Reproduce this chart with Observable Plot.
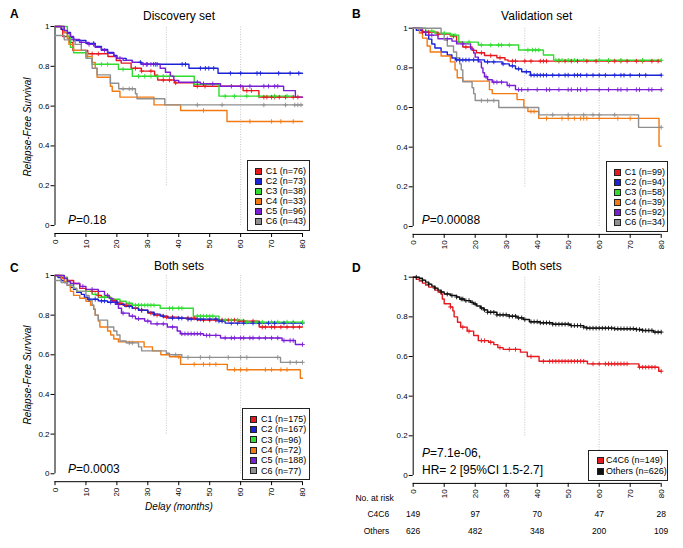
<!DOCTYPE html>
<html><head><meta charset="utf-8">
<script src="https://cdn.jsdelivr.net/npm/d3@7"></script>
<script src="https://cdn.jsdelivr.net/npm/@observablehq/plot@0.6"></script>
<style>
body{margin:0;background:#fff;font-family:"Liberation Sans",Arial,Helvetica,sans-serif;color:#000;}
#root{position:relative;width:683px;height:548px;overflow:hidden;background:#fff;}
.abs{position:absolute;white-space:nowrap;line-height:1;}
.ctr{transform:translate(-50%,-50%);}
.title{font-size:12px;}
.letter{font-size:12px;font-weight:bold;}
.ylab{font-size:10px;font-style:italic;transform:translate(-50%,-50%) rotate(-90deg);}
.pval{font-size:12px;transform:translateY(-50%);}
.legend{position:absolute;border:1px solid #222;background:#fff;box-sizing:border-box;font-size:9px;}
.legend .row{position:absolute;left:0;right:0;}
.legend .sw{position:absolute;width:5px;height:5px;border:1px solid #222;}
.legend .tx{position:absolute;white-space:nowrap;}
.panel{position:absolute;}
</style>
</head><body><div id="root"></div>
<script>
// ---------- shared ----------
const xTicks = [0,10,20,30,40,50,60,70,80];
const yTicks = [0,0.2,0.4,0.6,0.8,1];
const landmarks = [36,60];
const landmarkLow = [0.2,0];
const groupColors = ["#e6191e","#1a22d8","#2fdc2f","#f27a12","#7a1ed6","#8f8f8f"];

// ---------- Panel A: Discovery set ----------
const aLabels = ["C1 (n=76)","C2 (n=73)","C3 (n=38)","C4 (n=33)","C5 (n=96)","C6 (n=43)"];
const aEnd = [80,80,77.3,80,80,80];
const aC1 = [[0,1],[2,0.985],[2.5,0.95],[4.7,0.92],[5.8,0.88],[10.6,0.863],[17.1,0.849],[19.8,0.829],[21.4,0.816],[24.6,0.79],[27.9,0.776],[32.2,0.755],[33.2,0.731],[38.6,0.717],[44.9,0.7],[60.8,0.678],[65.9,0.645]];
const aC1cens = [12,14,26,28,31,35,37,39,46,48.5,62,63.5,67.5,68.5,70,71,72.5,74.5,77,78.5];
const aC2 = [[0,1],[2,0.986],[3,0.97],[5,0.945],[6,0.93],[10,0.915],[13,0.9],[15,0.885],[17,0.87],[19,0.855],[20,0.84],[23,0.83],[25,0.82],[28,0.81],[43.3,0.79],[52.7,0.765]];
const aC2cens = [12.5,27.6,29.8,31.9,33,41.1,42.2,47,48.6,49.7,51.3,56.7,60,65.3,66.4,72.3,76,78.8];
const aC3 = [[0,1],[4,0.95],[5,0.895],[6,0.868],[10.5,0.84],[12,0.81],[20.5,0.785],[25,0.75],[45,0.71],[53,0.65]];
const aC3cens = [15,17,22,27,29,31,33,35,37,48,55,58,62,66,71,75];
const aC4 = [[0,1],[3,0.97],[4,0.94],[4.5,0.91],[6,0.88],[10,0.85],[12,0.82],[13,0.79],[13.6,0.745],[17.9,0.7],[18.5,0.675],[21,0.645],[32,0.606],[40.6,0.578],[55.6,0.523]];
const aC4cens = [48,63,70,73,77];
const aC5 = [[0,1],[3,0.98],[4,0.965],[5,0.95],[6,0.935],[8,0.92],[11,0.91],[13,0.895],[15,0.88],[17,0.865],[19,0.85],[20,0.84],[22,0.83],[25,0.82],[28,0.81],[34,0.79],[35.7,0.77],[37.3,0.75],[38.4,0.729],[40,0.72],[47,0.712],[53.5,0.7],[73.9,0.678],[77.7,0.645]];
const aC5cens = [6,8.5,11,12.5,16,21,28.5,29.5,31,32.5,46,48,51,57,60,63,67.5,69,71,72];
const aC6 = [[0,0.955],[3,0.933],[6.5,0.91],[8.5,0.88],[10,0.84],[12,0.79],[13.6,0.757],[17.9,0.715],[20.6,0.687],[26,0.662],[26.5,0.637],[35.5,0.606]];
const aC6cens = [22,24,25,46,54,67.5,74.5,77.5,78.5,79.5];

// ---------- Panel B: Validation set ----------
const bLabels = ["C1 (n=99)","C2 (n=94)","C3 (n=58)","C4 (n=39)","C5 (n=92)","C6 (n=34)"];
const bEnd = [80,80,80,80,80,80];
const bC1 = [[0,1],[2,0.99],[3,0.98],[8,0.97],[12,0.96],[14,0.93],[16,0.905],[19,0.888],[20.4,0.876],[23,0.862],[27,0.851],[29.6,0.84],[30.6,0.834]];
const bC1cens = [3,5,8,13,17,22,25,28,32,33,36,38,41,42,43,47,49,51,53,56,59,63,65,67,69,72,74,77,79];
const bC2 = [[0,1],[1,0.99],[3,0.98],[4,0.965],[5,0.945],[6,0.92],[7,0.9],[9,0.88],[11,0.865],[12.5,0.85],[13.7,0.84],[23,0.83],[28.7,0.82],[31,0.81],[33,0.795],[35,0.78],[37.8,0.763]];
const bC2cens = [14,15,16,17,18,19.5,21,24,26,29,32,34,36.5,38,39,40,41,42,43,45,47,49,50,52,53,54,56,58,60,62,65,67,68,70,73,75,80];
const bC3 = [[0,1],[4,0.985],[7,0.975],[12,0.965],[14.7,0.93],[21,0.915],[34,0.89],[42,0.865],[45.3,0.838]];
const bC3cens = [6,10,12.5,13.5,18,22,25,27.5,28.5,31,37,38.5,39.5,40.5,46,47,48,50,52,55,60,63,67,74,80];
const bC4 = [[0,1],[2,0.975],[3,0.95],[4.5,0.91],[5.5,0.88],[9,0.86],[12,0.83],[13.5,0.79],[14.2,0.75],[16,0.733],[24.6,0.69],[25.5,0.67],[33.5,0.64],[35.7,0.6],[37,0.58],[40.5,0.545],[79.3,0.405]];
const bC4cens = [38,39,43,48,50,52,54,55,56,60,66,70];
const bC5 = [[0,1],[3,0.98],[5,0.965],[8,0.947],[12.5,0.935],[14,0.921],[18.5,0.895],[19.5,0.875],[20,0.854],[21,0.83],[22,0.8],[22.5,0.775],[23,0.755],[24,0.74],[25.5,0.728],[30.3,0.711],[33,0.69]];
const bC5cens = [4,6,11,16,23.5,26,27,28.5,31,34,35,37,40,43,44,47,50,51,53,54,56,60,63,66,67,69,72,73,76,77,80];
const bC6 = [[0,1],[9,0.97],[10,0.94],[11,0.91],[13,0.88],[14,0.85],[15,0.82],[15.5,0.79],[16,0.73],[19,0.7],[19.5,0.67],[20,0.635],[27.6,0.6],[40.5,0.563],[72.7,0.5]];
const bC6cens = [22,24,26,45,50,55,58,60,65,80];

// ---------- Panel C: Both sets ----------
const cLabels = ["C1 (n=175)","C2 (n=167)","C3 (n=96)","C4 (n=72)","C5 (n=188)","C6 (n=77)"];
const cEnd = [80,80,80,80,80,80];
const cC1 = [[0,1],[2,0.99],[4,0.975],[6,0.96],[8,0.935],[10,0.92],[14,0.9],[15,0.89],[18,0.875],[20,0.86],[22,0.85],[25,0.835],[27,0.825],[30,0.81],[32,0.8],[35,0.79],[40,0.785],[46,0.775],[59,0.77],[66,0.74]];
const cC1cens = [12,14,19,21,23,26,28,31,33,36,38,43,45,48,50,52,54,56,58,59.5,61,64,67,68,70,71,73,75,77,79];
const cC2 = [[0,1],[1,0.99],[2,0.975],[3,0.965],[4,0.95],[5,0.94],[6,0.93],[7,0.915],[8.5,0.905],[9.5,0.89],[10.6,0.88],[14,0.872],[17,0.865],[20.3,0.855],[22.5,0.845],[25,0.835],[27,0.825],[30,0.815],[32,0.805],[34,0.795],[36.5,0.785],[43,0.78],[53,0.77],[55,0.76]];
const cC2cens = [11,13,15,16,18,20,24,28,32,35,38,40,41,43,44,46,47,48,50,52,53,54,57,59,61,64,66,69,71,74,77,80];
const cC3 = [[0,1],[3,0.99],[4,0.97],[5,0.95],[6,0.935],[7,0.92],[12,0.905],[14,0.89],[18,0.88],[21,0.87],[23,0.86],[25,0.85],[34,0.835],[44.7,0.795],[53,0.775],[61,0.765]];
const cC3cens = [13,16,24,26,27,28,29,30,31,32,37,38,40,41,46,47,48,49,50,51,55,57,59,62,65,67,70,72,75,77,80];
const cC4 = [[0,1],[2,0.985],[3,0.97],[4,0.95],[5,0.92],[6,0.9],[8,0.885],[10,0.87],[11.5,0.85],[12.5,0.83],[13,0.8],[14,0.77],[14.5,0.74],[17,0.72],[18,0.7],[19,0.68],[20.5,0.665],[28.8,0.64],[31.5,0.62],[34.2,0.6],[37,0.59],[40.6,0.552],[55.7,0.525],[79.3,0.482]];
const cC4cens = [40,45,48,50,52,58,60,62,68,70,73,75];
const cC5 = [[0,1],[3,0.985],[4,0.97],[5,0.96],[8,0.945],[10,0.93],[14,0.92],[16,0.9],[17.5,0.885],[18.5,0.87],[19.5,0.855],[20.5,0.835],[21.5,0.81],[24,0.795],[26,0.782],[29,0.77],[31,0.756],[36.3,0.74],[39.5,0.72],[40.5,0.706],[48,0.698],[53.5,0.685],[73.4,0.672],[77.7,0.652]];
const cC5cens = [6,9,12,17,22,25,27,30,33,35,38,41,42,43,44,45,46,47,49,50,52,55,57,58,60,61,63,64,66,68,70,72,74,76,77,80];
const cC6 = [[0,0.975],[2,0.965],[4,0.95],[6,0.935],[7,0.92],[10,0.9],[11,0.875],[12,0.85],[12.5,0.83],[13,0.8],[14,0.775],[17,0.74],[19,0.72],[20,0.7],[21,0.67],[23,0.66],[27,0.64],[28,0.62],[36,0.608],[37,0.6],[41,0.587],[72.9,0.562]];
const cC6cens = [24,25,39,43,47,50,56,60,62,72,76,78,80];

// ---------- Panel D: Both sets, C4C6 vs others ----------
const dLabels = ["C4C6 (n=149)","Others (n=626)"];
const dColors = ["#e6191e","#111111"];
const dEnd = [80,80];
const dC4C6 = [[0,1],[1,0.99],[2,0.98],[3,0.97],[4,0.96],[5,0.95],[7,0.935],[8,0.925],[9,0.915],[9.4,0.89],[10,0.866],[12,0.85],[12.8,0.83],[13.2,0.8],[14.3,0.773],[15.3,0.748],[17.4,0.728],[19.5,0.706],[21,0.68],[24.3,0.672],[26,0.66],[27.3,0.645],[29,0.636],[34.6,0.622],[36.8,0.6],[40.6,0.576],[56.2,0.563],[72.8,0.546],[79.2,0.526]];
const dC4C6cens = [12,16,18,22,23,25,28,31,33,38,42,44,45,46,47,48,49,50,51,52,53,54,55,58,60,62,63,64,65,66,67,68,69,73,74,75,76,77,78,80];
const dOthers = [[0,1],[2,0.995],[3,0.985],[4,0.975],[5,0.965],[6,0.955],[7,0.945],[8,0.935],[9,0.925],[10,0.915],[12,0.908],[14,0.9],[15,0.89],[16.5,0.882],[18.5,0.873],[19.5,0.865],[20.5,0.855],[21.7,0.845],[22.8,0.835],[24,0.823],[27,0.81],[31,0.803],[33.5,0.795],[35.5,0.787],[37.5,0.775],[41,0.77],[45,0.763],[50.7,0.756],[55,0.748],[56,0.743],[65,0.74],[72,0.736],[74,0.731],[77.5,0.723]];
const dOtherscens = [1,3,5,7,9,11,12.5,14,15.5,16,17,18,19,20,22,23,24,25,26,27,28,29,30,31,32,33,34,35,36,38,39,40,41,42,43,44,45,46,47,48,49,50,51,52,53,54,55,56,57,58,59,60,61,62,63,64,65,66,67,68,69,70,71,72,73,74,75,76,77,78,79,80];
const riskTimes = [0,20,40,60,80];
const riskC4C6 = [149,97,70,47,28];
const riskOthers = [626,482,348,200,109];

// ---------- helpers ----------
function stepAt(steps, t){ let s = steps[0][1]; for (const [x,y] of steps){ if (x <= t) s = y; else break; } return s; }

function kmPlot(cfg){
  const lines = [], cens = [];
  cfg.curves.forEach((c,i)=>{
    c.steps.forEach(([t,s])=>lines.push({t,s,g:i}));
    lines.push({t:cfg.ends[i], s:c.steps[c.steps.length-1][1], g:i});
    c.cens.forEach(t=>cens.push({t, s:stepAt(c.steps,t), g:i}));
  });
  const yMin = -0.04;
  const marks = [
    Plot.ruleX(landmarks, {x:d=>d, y1:(d,i)=>landmarkLow[i], y2:d3.max(yTicks), stroke:"#b8b8b8", strokeDasharray:"1,1.5", strokeWidth:0.8}),
    Plot.ruleX([d3.min(xTicks)], {y1:d3.min(yTicks), y2:d3.max(yTicks), stroke:"#000", strokeWidth:1}),
    Plot.ruleY([yMin], {x1:d3.min(xTicks), x2:d3.max(xTicks), stroke:"#000", strokeWidth:1}),
    Plot.axisY(yTicks, {tickSize:4, tickPadding:1.5, tickFormat:d=>String(d), label:null, fontSize:8}),
    Plot.axisX(xTicks, {tickSize:4, tickPadding:2, tickRotate:-90, label:null, fontSize:8}),
    Plot.line(lines, {x:"t", y:"s", z:"g", stroke:"g", curve:"step-after", strokeWidth:1.4}),
    Plot.dot(cens, {x:"t", y:"s", stroke:"g", symbol:"plus", r:1.6, strokeWidth:0.9}),
    ...(cfg.extra || [])
  ];
  return Plot.plot({
    width: cfg.width, height: cfg.height,
    marginLeft: cfg.ml, marginRight: cfg.mr, marginTop: cfg.mt, marginBottom: cfg.mb,
    x: {domain:[d3.min(xTicks), d3.max(xTicks)], axis:null, label:null},
    y: {domain:[yMin, d3.max(yTicks)], axis:null, label:null},
    color: {type:"ordinal", domain:d3.range(cfg.colors.length), range:cfg.colors},
    style: {fontFamily:'"Liberation Sans", Arial, sans-serif', fontSize:"8px", color:"#000", background:"transparent", overflow:"visible"},
    marks
  });
}

const root = document.getElementById("root");
function place(el, left, top){ el.classList.add("panel"); el.style.left = left+"px"; el.style.top = top+"px"; root.appendChild(el); }
function txt(html, cls, left, top){ const d = document.createElement("div"); d.className = "abs "+cls; d.innerHTML = html; d.style.left = left+"px"; d.style.top = top+"px"; root.appendChild(d); return d; }
function legend(o){
  const box = document.createElement("div"); box.className = "legend";
  Object.assign(box.style, {left:o.left+"px", top:o.top+"px", width:o.w+"px", height:o.h+"px"});
  o.labels.forEach((lab,i)=>{
    const r = document.createElement("div"); r.className = "row";
    r.style.top = (o.pad + i*o.rowH)+"px"; r.style.height = o.rowH+"px";
    const sw = document.createElement("span"); sw.className = "sw"; sw.style.background = o.colors[i];
    sw.style.left = o.swl+"px"; sw.style.top = ((o.rowH-7)/2)+"px";
    const t = document.createElement("span"); t.className = "tx"; t.textContent = lab;
    t.style.left = o.txl+"px"; t.style.top = "0px"; t.style.lineHeight = o.rowH+"px";
    r.appendChild(sw); r.appendChild(t); box.appendChild(r);
  });
  root.appendChild(box);
}

// Panel A
place(kmPlot({width:340, height:270, ml:54.5, mr:38, mt:26, mb:37, colors:groupColors, ends:aEnd,
  curves:[{steps:aC1,cens:aC1cens},{steps:aC2,cens:aC2cens},{steps:aC3,cens:aC3cens},{steps:aC4,cens:aC4cens},{steps:aC5,cens:aC5cens},{steps:aC6,cens:aC6cens}]}), 0, 0);
// Panel B
place(kmPlot({width:343, height:270, ml:72.7, mr:22.3, mt:27.7, mb:36.1, colors:groupColors, ends:bEnd,
  curves:[{steps:bC1,cens:bC1cens},{steps:bC2,cens:bC2cens},{steps:bC3,cens:bC3cens},{steps:bC4,cens:bC4cens},{steps:bC5,cens:bC5cens},{steps:bC6,cens:bC6cens}]}), 340, 0);
// Panel C
place(kmPlot({width:340, height:278, ml:54.5, mr:38, mt:5, mb:66.8, colors:groupColors, ends:cEnd,
  curves:[{steps:cC1,cens:cC1cens},{steps:cC2,cens:cC2cens},{steps:cC3,cens:cC3cens},{steps:cC4,cens:cC4cens},{steps:cC5,cens:cC5cens},{steps:cC6,cens:cC6cens}]}), 0, 270);
// Panel D
place(kmPlot({width:343, height:278, ml:72.7, mr:22.3, mt:6.7, mb:65.1, colors:dColors, ends:dEnd,
  curves:[{steps:dC4C6,cens:dC4C6cens},{steps:dOthers,cens:dOtherscens}],
  extra:[
    Plot.text(["No. at risk"], {frameAnchor:"bottom-left", dx:-19.5, dy:18, textAnchor:"end", fontSize:8.5}),
    Plot.text(["C4C6"], {frameAnchor:"bottom-left", dx:-24, dy:34, textAnchor:"end", fontSize:8.5}),
    Plot.text(["Others"], {frameAnchor:"bottom-left", dx:-24, dy:51, textAnchor:"end", fontSize:8.5}),
    Plot.text(riskTimes, {x:d=>d, frameAnchor:"bottom", dy:34, text:(d,i)=>String(riskC4C6[i]), fontSize:8.5}),
    Plot.text(riskTimes, {x:d=>d, frameAnchor:"bottom", dy:51, text:(d,i)=>String(riskOthers[i]), fontSize:8.5})
  ]}), 340, 270);

// Titles and letters
txt("A","letter",10,8);
txt("B","letter",352,8);
txt("C","letter",10,262);
txt("D","letter",352,262);
txt("Discovery set","title ctr",179,16);
txt("Validation set","title ctr",536.7,16);
txt("Both sets","title ctr",179,266);
txt("Both sets","title ctr",536.7,266);
txt("Relapse-Free Survival","ylab",28,127);
txt("Relapse-Free Survival","ylab",28,375);
const delay = txt("Delay (months)","ylab",179,507);
delay.style.transform = "translate(-50%,-50%)";

// P values
txt("<i>P</i>=0.18","pval",68,220);
txt("<i>P</i>=0.00088","pval",421.7,220);
txt("<i>P</i>=0.0003","pval",68,469);
txt("<i>P</i>=7.1e-06,","pval",422,453);
txt("HR= 2 [95%CI 1.5-2.7]","pval",422,470);

// Legends
legend({left:246.7, top:160, w:63.3, h:70.7, pad:5, rowH:10, swl:7, txl:18, labels:aLabels, colors:groupColors});
legend({left:605.7, top:161, w:62.6, h:70.7, pad:5, rowH:10, swl:7, txl:18, labels:bLabels, colors:groupColors});
legend({left:242, top:408, w:68, h:72, pad:5, rowH:10.3, swl:7, txl:18, labels:cLabels, colors:groupColors});
legend({left:588, top:450, w:80, h:31, pad:4, rowH:10.7, swl:8, txl:17, labels:dLabels, colors:dColors});
</script></body></html>
